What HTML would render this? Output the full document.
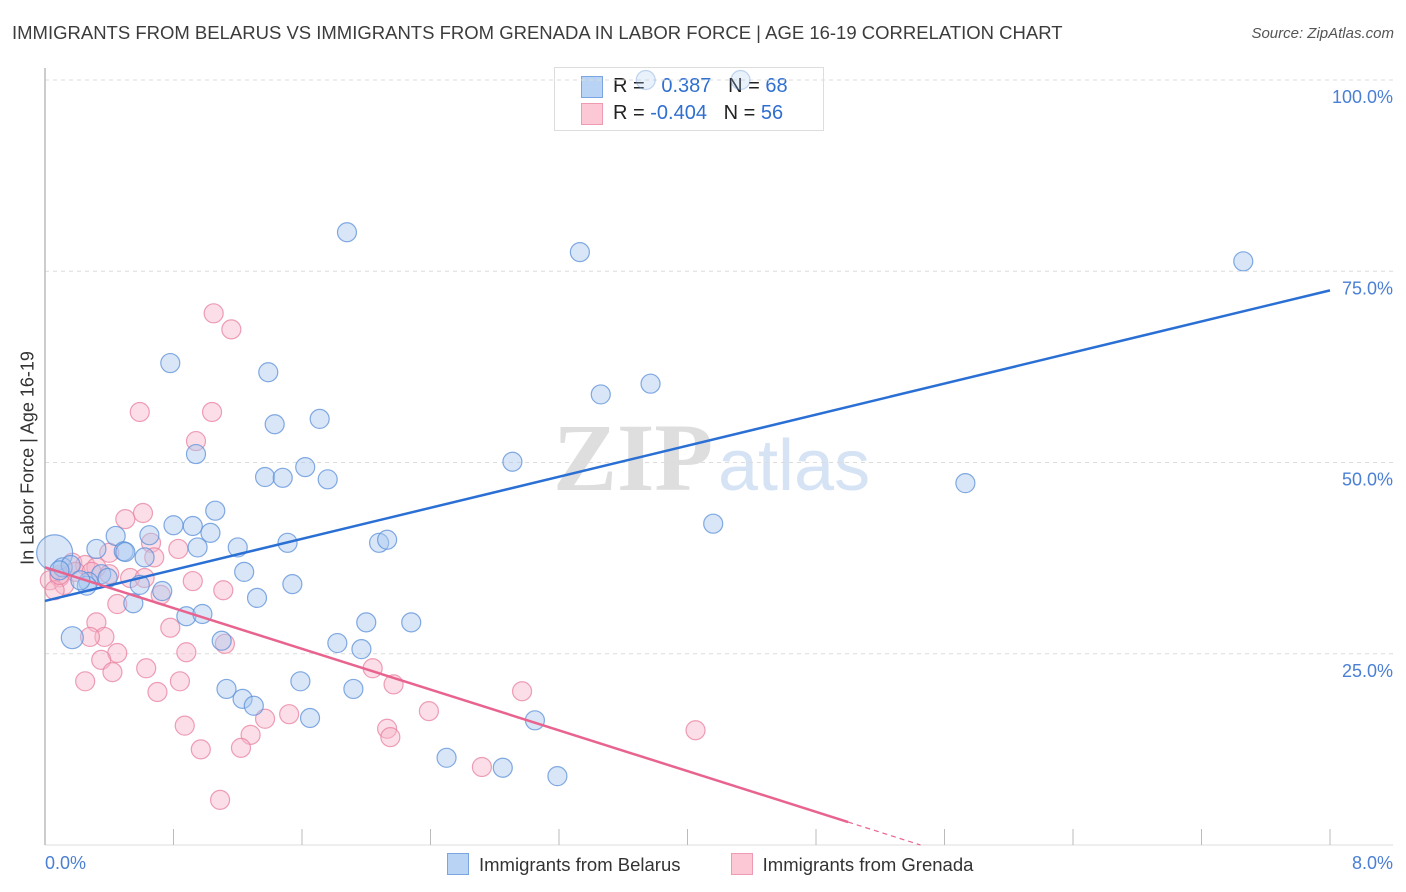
<!DOCTYPE html>
<html><head><meta charset="utf-8"><style>
body{margin:0;background:#fff;font-family:"Liberation Sans",sans-serif}
#wrap{position:relative;width:1406px;height:892px;overflow:hidden}
</style></head><body>
<div id="wrap">
<div style="position:absolute;left:12px;top:22px;font-size:18.5px;color:#3c3c3c">IMMIGRANTS FROM BELARUS VS IMMIGRANTS FROM GRENADA IN LABOR FORCE | AGE 16-19 CORRELATION CHART</div>
<div style="position:absolute;right:12px;top:25px;font-size:15px;color:#555;font-style:italic">Source: ZipAtlas.com</div>
<div style="position:absolute;left:554px;top:67px;width:268px;height:62px;border:1px solid #ddd;background:rgba(255,255,255,0.85);font-size:20px">
 <div style="position:absolute;left:26px;top:8px;width:20px;height:20px;background:#b9d3f5;border:1px solid #7aa5e0"></div>
 <div style="position:absolute;left:58px;top:7px;color:#222;white-space:pre">R = <span style="color:#2f6fd0">  0.387</span>   N = <span style="color:#2f6fd0">68</span></div>
 <div style="position:absolute;left:26px;top:35px;width:20px;height:20px;background:#fcc8d6;border:1px solid #ee9ab2"></div>
 <div style="position:absolute;left:58px;top:34px;color:#222;white-space:pre">R = <span style="color:#2f6fd0">-0.404</span>   N = <span style="color:#2f6fd0">56</span></div>
</div>
<svg id="svg" width="1406" height="892" style="position:absolute;left:0;top:0"></svg>
</div>
<script>
const bx=[3.74,4.33,1.88,3.33,7.46,0.78,1.39,3.46,3.77,1.71,1.43,0.94,1.62,2.91,1.37,1.48,1.76,5.73,1.06,0.80,0.92,4.16,0.44,0.65,1.03,1.20,0.32,0.49,0.95,1.51,2.08,2.13,0.06,0.11,0.16,0.35,0.39,0.27,0.26,0.59,0.73,1.24,1.54,0.55,1.32,0.88,0.98,2.00,2.28,0.17,1.10,1.82,1.97,1.59,1.13,1.23,1.30,1.92,1.65,3.05,2.50,2.85,3.19,0.62,0.09,0.22,0.50];
const by=[100,100,80.1,77.5,76.3,63.0,61.8,58.9,60.3,55.7,55.0,51.1,49.4,50.1,48.1,48.0,47.8,47.3,43.7,41.8,41.7,42.0,40.4,40.5,40.8,38.9,38.7,38.4,38.9,39.5,39.5,39.9,38.2,36.3,36.6,35.4,34.9,34.4,33.9,34.0,33.2,35.7,34.1,31.6,32.3,29.9,30.2,29.1,29.1,27.1,26.7,26.4,25.6,21.4,20.4,19.1,18.2,20.4,16.6,16.3,11.4,10.1,9.0,37.6,35.9,34.6,38.3];
const px=[1.05,1.16,0.59,1.04,0.94,0.61,0.50,0.83,0.66,0.40,0.68,0.17,0.25,0.32,0.40,0.09,0.03,0.12,0.06,0.53,0.62,0.92,1.11,0.72,0.45,0.78,0.32,0.37,0.28,0.45,0.35,0.88,0.63,0.42,0.25,0.84,0.70,2.04,2.17,2.97,1.12,2.39,0.87,1.37,1.52,1.28,2.13,2.15,4.05,0.97,1.22,2.72,1.09,0.09,0.19,0.29];
const py=[69.5,67.4,56.6,56.6,52.8,43.4,42.6,38.7,39.5,38.2,37.6,36.9,36.6,36.3,35.4,35.0,34.6,34.0,33.3,34.9,34.9,34.5,33.3,32.7,31.5,28.4,29.1,27.2,27.2,25.1,24.2,25.2,23.1,22.6,21.4,21.4,20.0,23.1,21.0,20.1,26.3,17.5,15.6,16.5,17.1,14.4,15.2,14.1,15.0,12.5,12.7,10.2,5.9,35.3,35.7,35.7];
const blueTrend=[31.9,72.5];
const pinkTrend=[36.3,3.0];
const pinkTrendEnd=5.0;
const yTicks=[25,50,75,100];
const yTickLabels=["25.0%","50.0%","75.0%","100.0%"];
const X=v=>45+v/8*1285, Y=v=>845-v/100*765;
const s=document.getElementById('svg');const NS='http://www.w3.org/2000/svg';
function mk(t,a,p){const e=document.createElementNS(NS,t);for(const k in a)e.setAttribute(k,a[k]);(p||s).appendChild(e);return e;}
let w1=mk('text',{x:553,y:490,'font-size':96,'font-family':'Liberation Serif, serif',fill:'#dedede','font-weight':'bold'});w1.textContent='ZIP';


let w2=mk('text',{x:718,y:490,'font-size':72,'font-family':'Liberation Sans, sans-serif',fill:'#d5e3f5'});w2.textContent='atlas';


yTicks.forEach((t,i)=>{
 let g=mk('line',{x1:45,x2:1393,y1:Y(t),y2:Y(t),stroke:'#dcdcdc','stroke-dasharray':'4,4'});
 
 
 let l=mk('text',{x:1393,y:Y(t)+23,'text-anchor':'end','font-size':18,fill:'#4a7fd4'});l.textContent=yTickLabels[i];
 
 
});
let ax=mk('line',{x1:45,x2:45,y1:68,y2:845,stroke:'#bbb','stroke-width':1.5});


let axb=mk('line',{x1:45,x2:1393,y1:845,y2:845,stroke:'#ddd'});


for(let i=0;i<=10;i++){let t=mk('line',{x1:X(i*0.8),x2:X(i*0.8),y1:829,y2:845,stroke:'#bbb'});
 
 }
function pts(xs,ys,fill,stroke,name){xs.forEach((x,i)=>{let r=(name==='belarus-point'&&i===32)?18:((name==='belarus-point'&&i===49)?11:9.5);
 let op=(ys[i]>=99)?0.25:0.45;
 let c=mk('circle',{cx:X(x),cy:Y(ys[i]),r:r,fill:fill,'fill-opacity':op,stroke:stroke,'stroke-opacity':(ys[i]>=99)?0.35:0.75,'stroke-width':1.2});
 
 });}
pts(px,py,'#f7b6c9','#e8809f','grenada-point');
pts(bx,by,'#a9c8f0','#5b8fd8','belarus-point');
let bl=mk('line',{x1:X(0),y1:Y(blueTrend[0]),x2:X(8),y2:Y(blueTrend[1]),stroke:'#2a6fd4','stroke-width':2.5});


let sl=(pinkTrend[1]-pinkTrend[0])/pinkTrendEnd;
let pl=mk('line',{x1:X(0),y1:Y(pinkTrend[0]),x2:X(pinkTrendEnd),y2:Y(pinkTrend[1]),stroke:'#e8648f','stroke-width':2.5});


let xz=-pinkTrend[0]/sl;
let pd=mk('line',{x1:X(pinkTrendEnd),y1:Y(pinkTrend[1]),x2:X(xz),y2:Y(0),stroke:'#e8648f','stroke-width':1.2,'stroke-dasharray':'5,4'});


</script>
<div style="position:absolute;left:28px;top:458px;transform:translate(-50%,-50%) rotate(-90deg);font-size:18px;color:#333;white-space:nowrap">In Labor Force | Age 16-19</div>
<div style="position:absolute;left:45px;top:853px;font-size:18px;color:#4a7fd4">0.0%</div>
<div style="position:absolute;right:13px;top:853px;font-size:18px;color:#4a7fd4">8.0%</div>
<div style="position:absolute;left:447px;top:853px;font-size:18.5px;color:#333">
 <span><span style="display:inline-block;width:20px;height:20px;background:#b9d3f5;border:1px solid #7aa5e0;vertical-align:-4px;margin-right:10px"></span>Immigrants from Belarus</span>
 <span style="margin-left:45px"><span style="display:inline-block;width:20px;height:20px;background:#fcc8d6;border:1px solid #ee9ab2;vertical-align:-4px;margin-right:10px"></span>Immigrants from Grenada</span>
</div>
</body></html>
